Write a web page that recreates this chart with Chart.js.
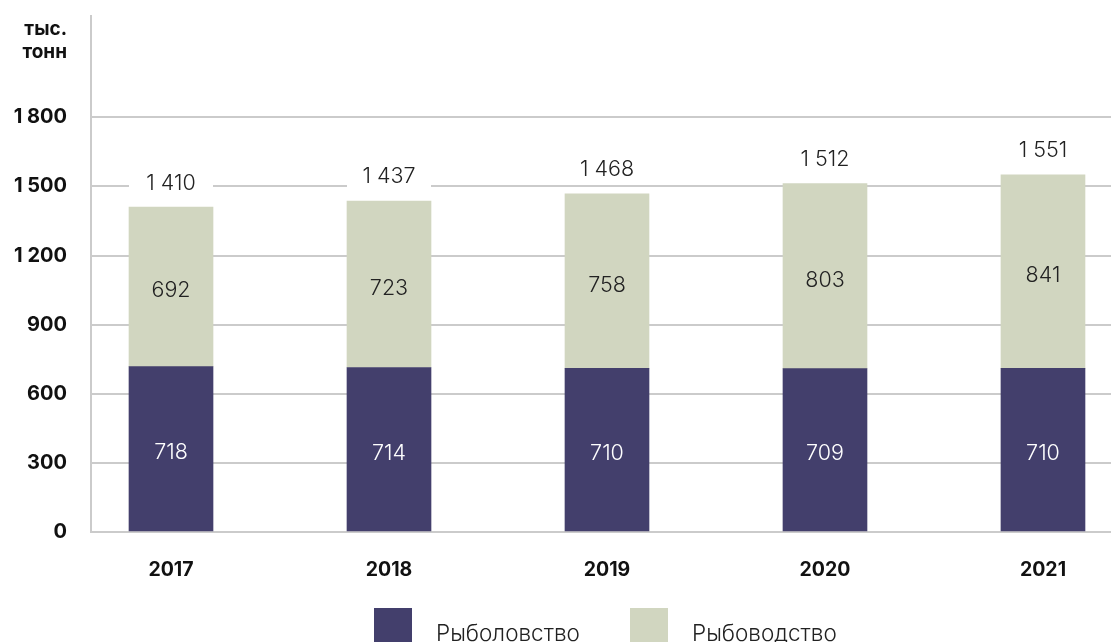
<!DOCTYPE html>
<html lang="ru">
<head>
<meta charset="utf-8">
<title>Рыболовство и рыбоводство</title>
<script src="https://cdn.jsdelivr.net/npm/chart.js@4.4.1/dist/chart.umd.min.js"></script>
<style>
    html, body { margin: 0; padding: 0; background: #fff; overflow: hidden; }
    #wrap { position: relative; width: 1111px; height: 642px; }
    #legend { position: absolute; left: 0; top: 0; width: 1111px; height: 642px; pointer-events: none; }
    .item { position: absolute; top: 608px; height: 38px; display: flex; align-items: center;
            font-family: Inter, sans-serif; font-weight: 300; font-size: 22.5px; color: #222; white-space: nowrap; }
    .item span.box { display: inline-block; width: 38px; height: 38px; margin-right: 24px; }
    .item span.txt { position: relative; top: 5px; }
</style>
</head>
<body>
<div id="wrap">
    <canvas id="chart" width="1111" height="642"></canvas>
    <div id="legend"></div>
</div>
<script>
// данные
const years = [2017, 2018, 2019, 2020, 2021];
const catchValues = [718, 714, 710, 709, 710];   // Рыболовство
const farmValues = [692, 723, 758, 803, 841];    // Рыбоводство
const seriesNames = ['Рыболовство', 'Рыбоводство'];
const seriesColors = ['#433f6c', '#d1d6c0'];
const yTicksShown = [0, 300, 600, 900, 1200, 1500, 1800];
const unitLines = ['тыс.', 'тонн'];

const totals = years.map((y, i) => catchValues[i] + farmValues[i]);

function fmt(n) {
    return String(n).replace(/\B(?=(\d{3})+(?!\d))/g, ' ');
}

const FONT = 'Inter, sans-serif';
const GRID = '#cbcbcb';

// подписи значений, итоги и единицы измерения
const barLabels = {
    id: 'barLabels',
    afterDatasetsDraw(chart) {
        const ctx = chart.ctx;
        ctx.save();
        ctx.textAlign = 'center';
        ctx.textBaseline = 'middle';
        ctx.font = '300 21.5px ' + FONT;

        chart.data.datasets.forEach((ds, i) => {
            const meta = chart.getDatasetMeta(i);
            meta.data.forEach((bar, j) => {
                ctx.fillStyle = i === 0 ? '#ffffff' : '#222222';
                ctx.fillText(fmt(ds.data[j].y), bar.x, (bar.y + bar.base) / 2 + 4);
            });
        });

        const topMeta = chart.getDatasetMeta(chart.data.datasets.length - 1);
        topMeta.data.forEach((bar, j) => {
            const y = bar.y - 24;
            ctx.fillStyle = '#ffffff';
            ctx.fillRect(bar.x - bar.width / 2, y - 13, bar.width, 26);
            ctx.fillStyle = '#222222';
            ctx.fillText(fmt(totals[j]), bar.x, y);
        });

        ctx.textAlign = 'right';
        ctx.fillStyle = '#111111';
        ctx.font = 'bold 19px ' + FONT;
        const top = chart.chartArea.top;
        unitLines.forEach((t, k) => ctx.fillText(t, 67, top + 13 + k * 23));
        ctx.restore();
    }
};

const chart = new Chart(document.getElementById('chart').getContext('2d'), {
    type: 'bar',
    data: {
        datasets: [
            {
                label: seriesNames[0],
                data: years.map((y, i) => ({ x: y, y: catchValues[i] })),
                backgroundColor: seriesColors[0],
                barThickness: 84
            },
            {
                label: seriesNames[1],
                data: years.map((y, i) => ({ x: y, y: farmValues[i] })),
                backgroundColor: seriesColors[1],
                barThickness: 84
            }
        ]
    },
    options: {
        responsive: false,
        animation: false,
        layout: { padding: { top: 16, right: 0, left: 0, bottom: 0 } },
        plugins: {
            legend: { display: false },
            tooltip: { enabled: false }
        },
        scales: {
            x: {
                type: 'linear',
                stacked: true,
                offset: false,
                min: 2016.633,
                max: 2021.312,
                grid: { display: false },
                border: { display: true, color: GRID, width: 2 },
                ticks: {
                    stepSize: 1,
                    includeBounds: false,
                    padding: 18,
                    color: '#111',
                    font: { family: FONT, size: 19.5, weight: 'bold' },
                    callback: v => String(v)
                },
                afterFit: scale => { scale.height = 110; }
            },
            y: {
                stacked: true,
                min: 0,
                max: 2240,
                grid: {
                    drawTicks: false,
                    lineWidth: 2,
                    color: c => yTicksShown.includes(c.tick.value) ? GRID : 'rgba(0,0,0,0)'
                },
                border: { display: true, color: GRID, width: 2 },
                ticks: {
                    stepSize: 300,
                    padding: 24,
                    color: '#111',
                    font: { family: FONT, size: 20, weight: 'bold' },
                    callback: v => yTicksShown.includes(v) ? fmt(v) : ''
                },
                afterFit: scale => {
                    scale.width = 91;
                    scale.paddingTop = 0;
                    scale.paddingBottom = 0;
                }
            }
        }
    },
    plugins: [barLabels]
});

// легенда
const legend = document.getElementById('legend');
const legendLeft = [374, 630];
seriesNames.forEach((name, i) => {
    const item = document.createElement('div');
    item.className = 'item';
    item.style.left = legendLeft[i] + 'px';
    item.innerHTML = '<span class="box" style="background:' + seriesColors[i] + '"></span><span class="txt">' + name + '</span>';
    legend.appendChild(item);
});
</script>
</body>
</html>
